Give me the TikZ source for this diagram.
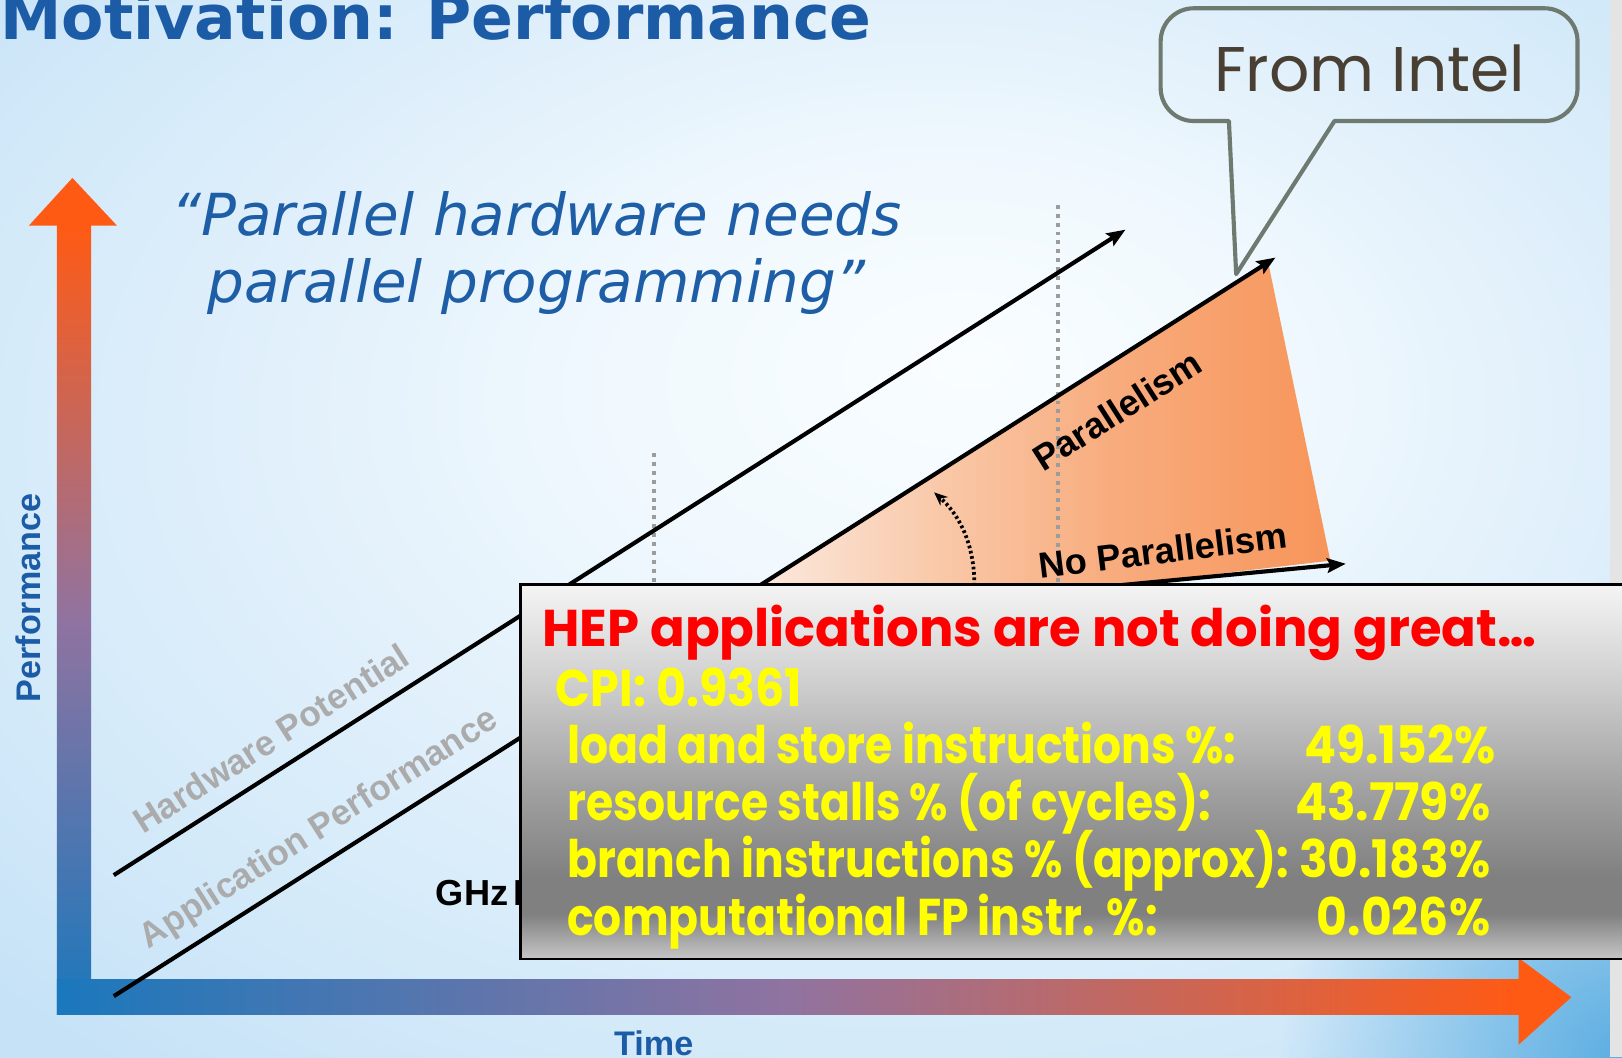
\documentclass[tikz,border=0pt]{standalone}
\usepackage{fontspec}
\setmainfont{DejaVu Sans}
\newfontfamily\arialf{Liberation Sans}
\newfontfamily\popy{Poppins}[FakeStretch=0.852]
\newfontfamily\popn{Poppins}[FakeStretch=0.915]
\newfontfamily\popc{Poppins}[FakeStretch=0.89]
\newfontfamily\poph{Poppins}[FakeStretch=0.99]
\newfontfamily\popr{Poppins}
\usetikzlibrary{arrows.meta,fadings,shadings}
\definecolor{titleblue}{HTML}{1C5CA6}
\definecolor{quoteblue}{HTML}{1D5EA6}
\definecolor{labelgray}{HTML}{ABABAB}
\definecolor{dotgray}{HTML}{9C9C9C}
\definecolor{calloutgray}{HTML}{6E7A70}
\definecolor{intrown}{HTML}{4A3F33}
\definecolor{hepyellow}{HTML}{FFFF00}
\definecolor{hepred}{HTML}{FF0000}
\definecolor{axblue}{HTML}{1A78BC}
\definecolor{axpurple}{HTML}{9073A0}
\definecolor{axorange}{HTML}{FF5A14}
\definecolor{stripgray}{HTML}{E4E4E4}
\definecolor{cornerblue}{HTML}{5CAEE2}
\definecolor{bg0}{HTML}{F9FDFF}
\definecolor{bg1}{HTML}{F1F9FE}
\definecolor{bg2}{HTML}{E1F0FB}
\definecolor{bg3}{HTML}{D2E9F9}
\definecolor{bg4}{HTML}{C6E2F7}
\definecolor{w0}{HTML}{FEFAF8}
\definecolor{w1}{HTML}{FBE4D6}
\definecolor{w2}{HTML}{F9C8A8}
\definecolor{w3}{HTML}{F8AC7E}
\definecolor{w4}{HTML}{F7955A}
\definecolor{bxA}{HTML}{C6C6C6}
\definecolor{bxB}{HTML}{808080}
\definecolor{bxC}{HTML}{A2A2A2}
\definecolor{bxD}{HTML}{D2D2D2}
\definecolor{bxE}{HTML}{F4F4F4}
\pgfdeclareradialshading{bgshade}{\pgfpoint{5bp}{8bp}}{color(0bp)=(bg0); color(10bp)=(bg1); color(20bp)=(bg2); color(30bp)=(bg3); color(37bp)=(bg4); color(60bp)=(bg4)}
\pgfdeclarehorizontalshading{wedgeshade}{100bp}{color(0bp)=(w0); color(25bp)=(w0); color(33bp)=(w1); color(45bp)=(w2); color(58bp)=(w3); color(75bp)=(w4); color(100bp)=(w4)}
\pgfdeclareverticalshading{boxshade}{100bp}{color(0bp)=(bxA); color(25bp)=(bxA); color(31bp)=(bxB); color(36bp)=(bxB); color(48bp)=(bxC); color(63bp)=(bxD); color(75bp)=(bxE); color(100bp)=(bxE)}
\tikzfading[name=cornerfade, inner color=transparent!0, outer color=transparent!100]
\begin{document}
\begin{tikzpicture}[x=0.5pt,y=-0.5pt,
  blackline/.style={line width=2pt, -{Stealth[length=9pt,width=7pt,inset=1.5pt]}},
  graylabel/.style={font=\arialf\bfseries\fontsize{17}{17}\selectfont, text=labelgray, inner sep=0},
  blacklabel/.style={font=\arialf\bfseries\fontsize{17.5}{17.5}\selectfont, text=black, inner sep=0},
  axlabel/.style={font=\arialf\bfseries\fontsize{16.5}{16.5}\selectfont, text=titleblue, inner sep=0},
  vdots/.style={draw=dotgray, line width=1.9pt, dash pattern=on 1.9pt off 2.4pt},
  quote/.style={font=\itshape\fontsize{28}{28}\selectfont, text=quoteblue, inner sep=0, anchor=base west},
  yellowtxt/.style={font=\popy\bfseries\fontsize{25}{25}\selectfont, text=hepyellow, inner sep=0, anchor=base west},
  yellownum/.style={font=\popn\bfseries\fontsize{25}{25}\selectfont, text=hepyellow, inner sep=0, anchor=base east},
  callout/.style={draw=calloutgray, line width=2pt, line join=round}
]
\useasboundingbox (0,0) rectangle (1568,1022);
\clip (0,0) rectangle (1568,1022);
% background
\shade[shading=bgshade] (0,0) rectangle (1568,1022);
\fill[cornerblue, path fading=cornerfade] (1568,1022) circle (330);
\fill[stripgray] (1556,0) rectangle (1568,1022);
% title and quote
\node[anchor=base west, inner sep=0, font=\bfseries\fontsize{29.8}{30}\selectfont, text=titleblue] (title) at (0,38) {Motivation: Performance};
\node[quote] (quote1) at (165,228) {“Parallel hardware needs};
\node[quote] (quote2) at (200,292) {parallel programming”};
% axes
\shade[bottom color=axblue, top color=axorange, middle color=axpurple] (55,218) rectangle (88,981);
\fill[axorange] (28,218) -- (70,172) -- (113,218) -- cycle;
\shade[left color=axblue, right color=axorange, middle color=axpurple] (55,947) rectangle (1469,981);
\fill[axorange] (1468,926) -- (1519,964) -- (1468,1010) -- cycle;
\node[axlabel, rotate=90] (perf) at (27,578) {Performance};
\node[axlabel, anchor=base] (time) at (632,1020) {Time};
% wedge
\shade[shading=wedgeshade] (660,613) -- (1226,254) -- (1286,542) -- (1080,566) -- (1000,650) -- cycle;
% dotted vertical lines
\coordinate (d1top) at (1023,198);
\coordinate (d1bot) at (1023,566);
\coordinate (d2top) at (632,438);
\coordinate (d2bot) at (632,566);
\draw[vdots] (d1top) -- (d1bot);
\draw[vdots] (d2top) -- (d2bot);
% lines
\coordinate (hwstart) at (110,846);
\coordinate (hwend) at (1088,222);
\coordinate (apstart) at (110,963);
\coordinate (apend) at (1233,249);
\coordinate (npstart) at (880,585);
\coordinate (npend) at (1301,545);
\draw[blackline] (hwstart) -- (hwend);
\draw[blackline] (apstart) -- (apend);
\draw[blackline] (npstart) -- (npend);
\coordinate (arcstart) at (942,566);
\coordinate (arcend) at (903,476);
\draw[line width=1.8pt, dash pattern=on 1.3pt off 1.3pt, -{Stealth[length=6.5pt,width=5.5pt]}] (arcstart) .. controls (942,530) and (930,500) .. (arcend);
% labels on lines
\node[graylabel, rotate=32.5] (hwlabel) at (262,714) {Hardware Potential};
\node[graylabel, rotate=32.5] (aplabel) at (309,802) {Application Performance};
\node[blacklabel, rotate=32.5] (parlabel) at (1080,397) {Parallelism};
\node[blacklabel, rotate=7] (nparlabel) at (1124,532) {No Parallelism};
\node[blacklabel, anchor=base west] (ghz) at (421,875) {GHz\kern2.5pt Era};
% callout
\draw[callout] (1195,265) -- (1188,117) [rounded corners=16] -- (1122,117) -- (1122,8) -- (1525,8) -- (1525,117) [sharp corners] -- (1290,117) -- cycle;
\node[anchor=base, inner sep=0, font=\popr\fontsize{30.5}{30.5}\selectfont, text=intrown] (intel) at (1324,88) {From Intel};
% HEP box
\shade[shading=boxshade] (503,565) rectangle (1580,927);
\draw[black, line width=1.2pt] (503,565) rectangle (1580,927);
\node[anchor=base west, inner sep=0, font=\poph\bfseries\fontsize{25}{25}\selectfont, text=hepred] (hep) at (524,625) {HEP applications are not doing great…};
\node[yellowtxt, font=\popc\bfseries\fontsize{25}{25}\selectfont] (cpi) at (537,683) {CPI: 0.9361};
\node[yellowtxt] (ls) at (548,738) {load and store instructions \%:};
\node[yellownum] (lsv) at (1446,738) {49.152\%};
\node[yellowtxt] (rs) at (548,793) {resource stalls \% (of cycles):};
\node[yellownum] (rsv) at (1441,793) {43.779\%};
\node[yellowtxt] (br) at (548,848) {branch instructions \% (approx):};
\node[yellownum] (brv) at (1441,848) {30.183\%};
\node[yellowtxt] (fp) at (548,904) {computational FP instr. \%:};
\node[yellownum] (fpv) at (1441,904) {0.026\%};
\end{tikzpicture}
\end{document}
